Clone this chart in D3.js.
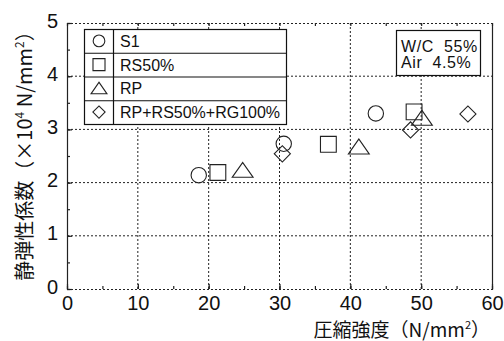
<!DOCTYPE html>
<html><head><meta charset="utf-8">
<script src="https://cdn.jsdelivr.net/npm/d3@7"></script>
<style>body{margin:0;background:#fff}</style>
</head><body><svg id="c" width="504" height="341"></svg>
<script>
const seriesNames = ["S1", "RS50%", "RP", "RP+RS50%+RG100%"];
const seriesShapes = ["circle", "square", "triangle", "diamond"];
const xS1 = [18.6, 30.6, 43.6], yS1 = [2.14, 2.73, 3.30];
const xRS = [21.3, 36.9, 49.0], yRS = [2.19, 2.72, 3.33];
const xRP = [24.8, 41.2, 50.1], yRP = [2.23, 2.67, 3.21];
const xRG = [30.4, 48.5, 56.6], yRG = [2.54, 2.99, 3.29];
const xTicks = [0, 10, 20, 30, 40, 50, 60];
const yTicks = [0, 1, 2, 3, 4, 5];
const annoLines = ["W/C  55%", "Air  4.5%"];

const svg = d3.select("#c");
const L = 67, R = 492, T = 23, B = 289;
const x = d3.scaleLinear().domain([0, 60]).range([L, R]);
const y = d3.scaleLinear().domain([0, 5]).range([B, T]);
const font = "'Liberation Sans', Arial, sans-serif";
const col = "#222";

// grid
const g = svg.append("g");
g.selectAll(".gx").data(xTicks.slice(1, -1)).enter().append("line")
  .attr("x1", d => x(d)).attr("x2", d => x(d)).attr("y1", T).attr("y2", B)
  .attr("stroke", col).attr("stroke-width", 1).attr("stroke-dasharray", "2,2");
g.selectAll(".gy").data(yTicks.slice(1, -1)).enter().append("line")
  .attr("y1", d => y(d)).attr("y2", d => y(d)).attr("x1", L).attr("x2", R)
  .attr("stroke", col).attr("stroke-width", 1).attr("stroke-dasharray", "2,2");
// frame: top and bottom dotted, left & right solid
svg.append("line").attr("x1", L).attr("x2", R).attr("y1", T + 0.5).attr("y2", T + 0.5)
  .attr("stroke", col).attr("stroke-dasharray", "2,2");
svg.append("line").attr("x1", L).attr("x2", R).attr("y1", B + 0.5).attr("y2", B + 0.5)
  .attr("stroke", col).attr("stroke-dasharray", "2,2");
svg.append("line").attr("x1", L + 0.5).attr("x2", L + 0.5).attr("y1", T).attr("y2", B + 1)
  .attr("stroke", col).attr("stroke-width", 1.2);
svg.append("line").attr("x1", R + 0.5).attr("x2", R + 0.5).attr("y1", T).attr("y2", B + 1)
  .attr("stroke", col).attr("stroke-width", 1.2);

// axes with inside ticks
const xMinor = d3.range(0, 61, 5);
const yMinor = d3.range(0, 5.01, 0.5);
const axB = svg.append("g").attr("transform", `translate(0,${B})`)
  .call(d3.axisBottom(x).tickValues(xMinor).tickSize(-3).tickFormat(""));
const axB2 = svg.append("g").attr("transform", `translate(0,${B})`)
  .call(d3.axisBottom(x).tickValues(xTicks).tickSize(-5).tickPadding(7).tickFormat(d3.format("d")));
const axT = svg.append("g").attr("transform", `translate(0,${T})`)
  .call(d3.axisTop(x).tickValues(xMinor).tickSize(-3).tickFormat(""));
const axL = svg.append("g").attr("transform", `translate(${L},0)`)
  .call(d3.axisLeft(y).tickValues(yMinor).tickSize(-3).tickFormat(""));
const axL2 = svg.append("g").attr("transform", `translate(${L},0)`)
  .call(d3.axisLeft(y).tickValues(yTicks).tickSize(-5).tickPadding(9).tickFormat(d3.format("d")));
[axB, axB2, axT, axL, axL2].forEach(a => {
  a.select(".domain").remove();
  a.selectAll(".tick line").attr("stroke", col).attr("stroke-width", 1.2);
  a.selectAll("text").attr("font-family", font).attr("font-size", 20).attr("fill", "#111");
});
axL2.selectAll("text").attr("dy", "0.2em");

// symbols
function sym(shape, big) {
  const s = big ? 1 : 0.76;
  const types = {circle: d3.symbolCircle, square: d3.symbolSquare, triangle: d3.symbolTriangle, diamond: d3.symbolSquare};
  const size = {circle: 185, square: 250, triangle: 150, diamond: 130}[shape] * s * s;
  return d3.symbol().type(types[shape]).size(size)();
}
const series = [
  {xs: xS1, ys: yS1}, {xs: xRS, ys: yRS}, {xs: xRP, ys: yRP}, {xs: xRG, ys: yRG}
];
series.forEach((s, i) => {
  const shape = seriesShapes[i];
  const pts = s.xs.map((v, j) => [v, s.ys[j]]);
  svg.append("g").selectAll("path").data(pts).enter().append("path")
    .attr("d", sym(shape, true))
    .attr("transform", d => `translate(${x(d[0])},${y(d[1]) + (shape === "triangle" ? 2 : 0)})` + (shape === "diamond" ? " rotate(45)" : "") + (shape === "triangle" ? " scale(1.12,0.92)" : ""))
    .attr("fill", "none").attr("stroke", col).attr("stroke-width", 1.1);
});

// legend
const lg = svg.append("g");
const lx = 84, ly = 29, lw = 202, rh = 23.75;
lg.append("rect").attr("x", lx + 0.5).attr("y", ly + 0.5).attr("width", lw).attr("height", rh * 4)
  .attr("fill", "#fff").attr("stroke", "#111").attr("stroke-width", 1.2);
lg.append("line").attr("x1", 113.5).attr("x2", 113.5).attr("y1", ly).attr("y2", ly + rh * 4)
  .attr("stroke", "#111").attr("stroke-width", 1.2);
seriesNames.forEach((n, i) => {
  const cy = ly + rh * i + rh / 2;
  if (i > 0) lg.append("line").attr("x1", lx).attr("x2", lx + lw).attr("y1", ly + rh * i + 0.5).attr("y2", ly + rh * i + 0.5)
    .attr("stroke", "#111").attr("stroke-width", 1.2);
  const shape = seriesShapes[i];
  lg.append("path").attr("d", sym(shape, false))
    .attr("transform", `translate(99,${cy + (shape === "triangle" ? 1.5 : 0)})` + (shape === "diamond" ? " rotate(45)" : "") + (shape === "triangle" ? " scale(1.12,0.92)" : ""))
    .attr("fill", "none").attr("stroke", col).attr("stroke-width", 1.1);
  lg.append("text").attr("x", 120).attr("y", cy + 6).text(n)
    .attr("font-family", font).attr("font-size", 16).attr("fill", "#111");
});

// annotation box
svg.append("rect").attr("x", 396.5).attr("y", 30.5).attr("width", 84).attr("height", 45)
  .attr("fill", "#fff").attr("stroke", "#111").attr("stroke-width", 1.2);
annoLines.forEach((t, i) => {
  svg.append("text").attr("x", 401).attr("y", 52 + i * 16).text(t)
    .attr("font-family", font).attr("font-size", 16).attr("letter-spacing", 0.6).attr("fill", "#111")
    .attr("xml:space", "preserve").style("white-space", "pre");
});

// axis titles
const cjk = "'Noto Sans CJK JP', sans-serif";
const xt = svg.append("text").attr("x", 490).attr("y", 337).attr("text-anchor", "end")
  .attr("font-family", cjk).attr("font-size", 19).attr("fill", "#111");
xt.append("tspan").text("圧縮強度（N/mm");
xt.append("tspan").text("2").attr("font-size", 11).attr("dy", -8);
xt.append("tspan").text("）").attr("dy", 8);

const yt = svg.append("text").attr("transform", "translate(32,151) rotate(-90)").attr("text-anchor", "middle")
  .attr("font-family", cjk).attr("font-size", 20).attr("fill", "#111");
yt.append("tspan").text("静弾性係数（×10");
yt.append("tspan").text("4").attr("font-size", 12).attr("dy", -8);
yt.append("tspan").text(" N/mm").attr("dy", 8);
yt.append("tspan").text("2").attr("font-size", 12).attr("dy", -8);
yt.append("tspan").text("）").attr("dy", 8);
</script></body></html>
